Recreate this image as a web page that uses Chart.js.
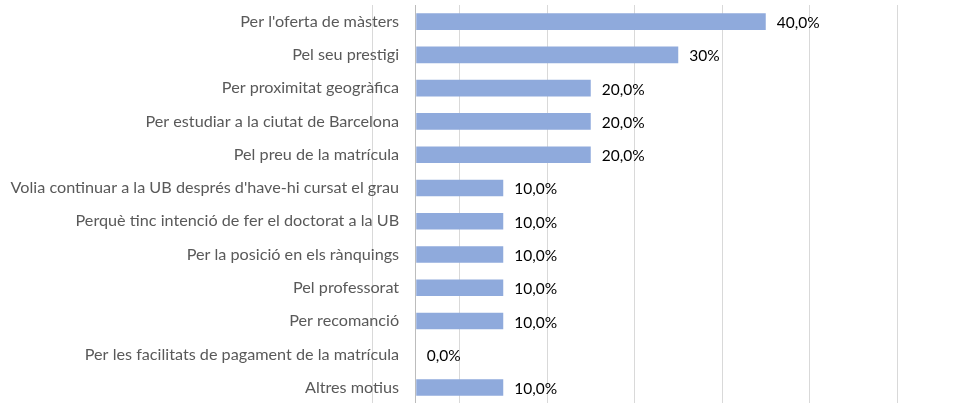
<!DOCTYPE html>
<html>
<head>
<meta charset="utf-8">
<script src="https://cdn.jsdelivr.net/npm/chart.js@4/dist/chart.umd.min.js"></script>
<style>
  html, body { margin: 0; padding: 0; background: #fff; overflow: hidden; }
  #wrap { width: 975px; height: 405px; position: relative; }
</style>
</head>
<body>
<div id="wrap"><canvas id="chartMotius"></canvas></div>
<script>
const categories = [
    "Per l'oferta de màsters",
    "Pel seu prestigi",
    "Per proximitat geogràfica",
    "Per estudiar a la ciutat de Barcelona",
    "Pel preu de la matrícula",
    "Volia continuar a la UB després d'have-hi cursat el grau",
    "Perquè tinc intenció de fer el doctorat a la UB",
    "Per la posició en els rànquings",
    "Pel professorat",
    "Per recomanció",
    "Per les facilitats de pagament de la matrícula",
    "Altres motius"
];
const valors = [40, 30, 20, 20, 20, 10, 10, 10, 10, 10, 0, 10];
const etiquetes = ["40,0%", "30%", "20,0%", "20,0%", "20,0%", "10,0%", "10,0%", "10,0%", "10,0%", "10,0%", "0,0%", "10,0%"];
const liniesGraella = [-5, 0, 5, 15, 25, 35, 45, 55];

// etiquetes de dades al final de cada barra
const etiquetesPlugin = {
    id: 'etiquetes',
    afterDatasetsDraw(chart) {
        const ctx = chart.ctx;
        const meta = chart.getDatasetMeta(0);
        ctx.save();
        ctx.font = '15.5px Lato';
        ctx.fillStyle = '#000';
        ctx.textAlign = 'left';
        ctx.textBaseline = 'middle';
        meta.data.forEach((bar, i) => {
            ctx.fillText(etiquetes[i], bar.x + 11, bar.y + 1.5);
        });
        ctx.restore();
    }
};

const ctx = document.getElementById('chartMotius');

new Chart(ctx, {
    type: 'bar',
    data: {
        labels: categories,
        datasets: [{
            data: valors,
            backgroundColor: "#8faadc",
            borderWidth: 0,
            categoryPercentage: 1,
            barPercentage: 0.5
        }]
    },
    options: {
        indexAxis: 'y',
        responsive: true,
        maintainAspectRatio: false,
        animation: false,
        layout: {
            padding: { left: 372, right: 78, top: 5, bottom: 0 }
        },
        plugins: {
            legend: { display: false },
            tooltip: { enabled: false }
        },
        scales: {
            x: {
                min: -5,
                max: 55,
                afterBuildTicks: (scale) => {
                    scale.ticks = liniesGraella.map(v => ({ value: v }));
                },
                ticks: { display: false },
                grid: {
                    color: (c) => c.tick && c.tick.value === 0 ? "#bcbcbc" : "#d9d9d9",
                    drawTicks: false
                },
                border: { display: false }
            },
            y: {
                position: { x: -1.9 }, // etiquetes a l'esquerra de l'eix del zero
                ticks: {
                    color: "#595959",
                    font: { family: 'Lato', size: 16.2, lineHeight: 0.1 },
                    padding: 0
                },
                grid: { display: false, drawTicks: false },
                border: { display: false }
            }
        }
    },
    plugins: [etiquetesPlugin]
});
</script>
</body>
</html>
